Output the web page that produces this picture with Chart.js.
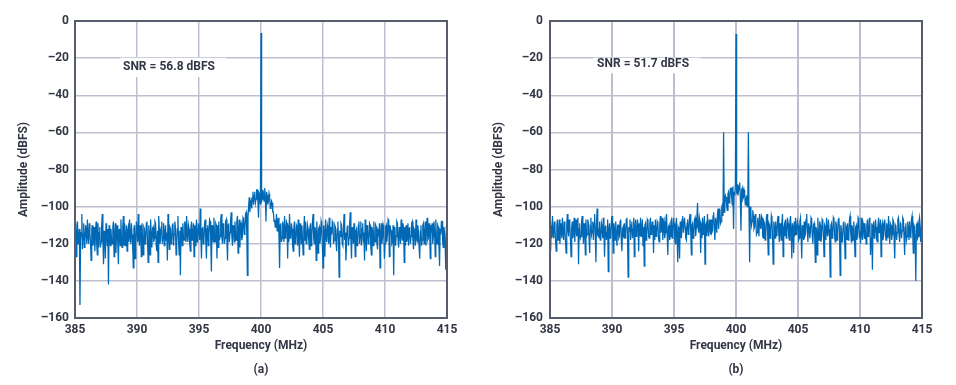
<!DOCTYPE html>
<html lang="en">

<head>
    <meta charset="UTF-8">
    <title>Spectrum (a) and (b)</title>
    <script src="https://cdn.jsdelivr.net/npm/chart.js"></script>
    <style>
        body {
            margin: 0;
            background: #fff;
            font-family: Roboto, Arial, sans-serif;
            overflow: hidden;
        }

        .panel {
            position: absolute;
            top: 0;
            width: 478px;
            height: 385px;
        }

        .tag {
            position: absolute;
            top: 362px;
            font: bold 12px Roboto, Arial, sans-serif;
            color: #333745;
            width: 40px;
            text-align: center;
        }
    </style>
</head>

<body>
    <div class="panel" style="left:0"><canvas id="chartA" width="478" height="385"></canvas></div>
    <div class="panel" style="left:478px"><canvas id="chartB" width="478" height="385"></canvas></div>
    <div class="tag" style="left:241px">(a)</div>
    <div class="tag" style="left:716px">(b)</div>

    <script>
        // frequency grid: 385.00 .. 415.00 MHz, 0.05 MHz per bin
        const freqStart = 385;
        const freqStep = 0.05;

        const xTicks = [385, 390, 395, 400, 405, 410, 415];
        const yTicks = [0, -20, -40, -60, -80, -100, -120, -140, -160];

        const snrLabels = ['SNR = 56.8 dBFS', 'SNR = 51.7 dBFS'];

        // amplitude (dBFS), one row per MHz
        const ampA = [
            -112, -117, -127, -110, -108, -120, -117, -112, -153, -118, -114, -104, -123, -115, -109, -122, -119, -110, -113, -120,
            -107, -116, -120, -109, -114, -119, -129, -112, -110, -121, -118, -111, -124, -115, -108, -120, -126, -109, -122, -114,
            -111, -122, -119, -110, -104, -118, -131, -113, -115, -128, -109, -116, -121, -112, -142, -110, -117, -121, -112, -118,
            -120, -111, -108, -127, -116, -109, -125, -114, -110, -120, -131, -112, -114, -121, -107, -117, -122, -111, -105, -121,
            -109, -121, -118, -110, -124, -113, -111, -119, -107, -116, -120, -109, -115, -121, -133, -112, -110, -128, -119, -108,
            -113, -119, -104, -117, -121, -110, -115, -127, -109, -117, -126, -111, -112, -120, -118, -109, -108, -119, -130, -110,
            -114, -126, -107, -116, -122, -112, -111, -119, -117, -108, -109, -121, -124, -113, -130, -105, -112, -120, -118, -111,
            -108, -120, -116, -109, -121, -114, -110, -118, -114, -129, -104, -115, -123, -111, -112, -120, -119, -110, -109, -121,
            -115, -108, -111, -126, -120, -112, -105, -118, -126, -113, -137, -111, -113, -121, -109, -117, -118, -108, -110, -119,
            -105, -115, -119, -110, -112, -120, -124, -111, -108, -118, -116, -109, -127, -110, -121, -112, -107, -119, -117, -109,
            -113, -118, -101, -116, -128, -112, -111, -120, -118, -109, -107, -119, -128, -112, -110, -121, -115, -107, -108, -119,
            -135, -110, -112, -119, -106, -115, -119, -109, -110, -128, -110, -122, -108, -118, -116, -107, -104, -117, -120, -109,
            -111, -120, -117, -108, -107, -118, -129, -110, -109, -119, -114, -107, -103, -116, -121, -110, -112, -119, -108, -115,
            -118, -108, -105, -125, -113, -107, -122, -110, -109, -118, -116, -106, -107, -115, -112, -104, -103, -113, -137, -106,
            -100, -95, -103, -98, -97, -101, -95, -92, -99, -94, -92, -98, -96, -91, -91, -97, -106, -93, -94, -99,
            -6.5, -97, -96, -91, -93, -97, -90, -95, -108, -92, -94, -99, -97, -93, -95, -101, -100, -97, -98, -103,
            -103, -108, -107, -111, -110, -104, -113, -108, -106, -116, -133, -110, -109, -119, -117, -108, -111, -119, -105, -117,
            -114, -108, -109, -128, -110, -119, -104, -117, -116, -109, -112, -121, -124, -111, -108, -120, -118, -110, -111, -121,
            -107, -116, -127, -109, -113, -120, -110, -118, -126, -112, -105, -118, -108, -120, -119, -110, -112, -118, -123, -111,
            -109, -121, -116, -108, -104, -117, -120, -111, -113, -129, -108, -116, -125, -112, -111, -120, -117, -108, -110, -121,
            -133, -110, -114, -127, -107, -116, -119, -110, -112, -120, -106, -117, -122, -111, -115, -108, -109, -120, -118, -110,
            -111, -119, -124, -112, -108, -117, -138, -113, -116, -109, -110, -120, -121, -112, -104, -118, -114, -129, -119, -111,
            -110, -121, -117, -109, -103, -118, -128, -111, -113, -120, -109, -116, -127, -113, -112, -121, -118, -110, -108, -120,
            -115, -108, -121, -112, -109, -119, -114, -129, -107, -116, -124, -110, -112, -120, -118, -109, -110, -121, -126, -111,
            -113, -121, -108, -117, -119, -110, -111, -120, -123, -112, -116, -109, -133, -114, -109, -120, -117, -110, -112, -128,
            -120, -111, -110, -119, -115, -107, -108, -127, -110, -112, -113, -120, -119, -110, -137, -112, -111, -121, -116, -108,
            -109, -118, -122, -111, -114, -120, -107, -116, -118, -109, -112, -130, -111, -121, -110, -119, -117, -109, -121, -112,
            -111, -120, -116, -109, -108, -118, -123, -112, -113, -121, -107, -117, -119, -110, -114, -122, -128, -113, -110, -121,
            -118, -110, -109, -120, -115, -108, -121, -111, -106, -118, -117, -109, -112, -128, -110, -112, -109, -120, -116, -108,
            -113, -127, -107, -117, -120, -110, -111, -121, -132, -112, -115, -108, -108, -119, -122, -111, -114, -120, -134, -110,
            -112
        ];

        // amplitude (dBFS)
        const ampB = [
            -108, -124, -110, -117, -105, -115, -117, -108, -111, -119, -124, -110, -107, -118, -115, -107, -120, -112, -109, -117,
            -106, -114, -118, -108, -112, -119, -125, -110, -104, -113, -116, -107, -110, -118, -127, -111, -108, -117, -114, -106,
            -119, -110, -107, -116, -113, -106, -131, -112, -109, -117, -116, -108, -105, -114, -120, -109, -111, -126, -107, -116,
            -115, -107, -109, -117, -125, -110, -106, -115, -113, -108, -118, -109, -104, -114, -130, -110, -101, -116, -112, -117,
            -108, -118, -117, -109, -111, -117, -106, -114, -127, -111, -110, -118, -114, -107, -135, -112, -109, -117, -116, -108,
            -105, -114, -125, -109, -112, -118, -108, -116, -121, -110, -110, -117, -116, -108, -107, -118, -124, -112, -111, -117,
            -109, -117, -115, -107, -106, -116, -138, -111, -113, -107, -118, -110, -108, -117, -112, -106, -127, -111, -107, -116,
            -114, -107, -110, -124, -109, -116, -106, -116, -112, -107, -121, -111, -132, -110, -109, -118, -115, -107, -108, -116,
            -117, -109, -106, -115, -113, -108, -111, -125, -110, -118, -107, -116, -115, -108, -109, -117, -119, -110, -105, -114,
            -112, -106, -118, -110, -108, -117, -114, -107, -104, -115, -126, -111, -110, -118, -116, -108, -107, -117, -113, -106,
            -109, -116, -120, -110, -106, -115, -130, -111, -112, -128, -108, -115, -117, -107, -105, -114, -114, -106, -111, -117,
            -118, -109, -107, -115, -113, -106, -104, -114, -126, -110, -109, -117, -115, -107, -106, -116, -111, -105, -98, -112,
            -114, -106, -108, -125, -109, -117, -106, -115, -112, -105, -131, -110, -109, -116, -104, -112, -116, -107, -110, -115,
            -107, -114, -113, -105, -103, -112, -118, -106, -109, -114, -105, -101, -112, -104, -101, -109, -108, -100, -99, -105,
            -60, -103, -98, -94, -95, -100, -102, -93, -92, -98, -96, -90, -90, -95, -99, -89, -112, -92, -94, -88,
            -7, -93, -88, -94, -92, -89, -87, -96, -113, -91, -90, -96, -95, -91, -93, -99, -98, -94, -100, -97,
            -60, -104, -130, -100, -103, -110, -108, -102, -105, -112, -111, -104, -107, -115, -114, -106, -109, -116, -104, -110,
            -112, -105, -106, -116, -117, -108, -109, -118, -115, -106, -104, -114, -126, -109, -110, -117, -113, -105, -107, -118,
            -131, -108, -111, -117, -108, -114, -116, -107, -105, -115, -119, -109, -112, -118, -109, -104, -127, -112, -110, -116,
            -107, -117, -114, -106, -109, -116, -118, -108, -105, -113, -128, -109, -111, -125, -108, -116, -106, -115, -113, -108,
            -110, -118, -117, -108, -106, -115, -128, -110, -112, -118, -108, -116, -115, -107, -104, -113, -119, -109, -111, -117,
            -114, -106, -107, -116, -120, -110, -109, -117, -130, -111, -113, -126, -106, -114, -118, -108, -110, -119, -116, -107,
            -108, -115, -127, -110, -111, -118, -106, -114, -116, -107, -112, -117, -138, -110, -109, -117, -115, -106, -107, -116,
            -119, -108, -110, -118, -113, -107, -106, -115, -137, -110, -112, -119, -117, -109, -108, -116, -128, -110, -111, -118,
            -109, -118, -116, -107, -105, -114, -119, -110, -112, -118, -108, -117, -127, -111, -110, -118, -115, -106, -107, -117,
            -113, -120, -106, -115, -118, -109, -111, -117, -109, -115, -120, -110, -107, -116, -114, -106, -110, -126, -117, -109,
            -134, -110, -108, -117, -115, -107, -111, -118, -119, -110, -106, -114, -113, -107, -127, -111, -109, -118, -116, -108,
            -107, -115, -118, -109, -112, -117, -105, -114, -120, -109, -110, -118, -115, -107, -108, -117, -128, -110, -111, -118,
            -114, -107, -106, -116, -119, -109, -110, -117, -113, -106, -107, -116, -126, -111, -109, -118, -116, -108, -112, -118,
            -108, -115, -117, -107, -105, -114, -125, -110, -111, -118, -140, -110, -109, -117, -116, -108, -106, -115, -119, -109,
            -110
        ];

        const tickColor = '#333745';
        const gridColor = '#bdbfcf';
        const frameColor = '#575c6d';
        const lineColor = '#0068b4';
        const font = { family: 'Roboto, Arial, sans-serif', size: 12, weight: 'bold' };

        function toPoints(values) {
            return values.map((v, i) => ({ x: +(freqStart + i * freqStep).toFixed(2), y: v }));
        }

        // white box with the SNR text, sitting on top of the grid
        const snrPlugin = {
            id: 'snr',
            beforeDatasetsDraw(chart, args, opts) {
                const { ctx, scales: { x, y } } = chart;
                const x0 = x.getPixelForValue(opts.box[0]);
                const x1 = x.getPixelForValue(opts.box[1]);
                const y0 = y.getPixelForValue(opts.box[2]);
                const y1 = y.getPixelForValue(opts.box[3]);
                ctx.save();
                ctx.fillStyle = '#fff';
                ctx.fillRect(x0, y0, x1 - x0, y1 - y0);
                ctx.fillStyle = tickColor;
                ctx.font = 'bold 12px Roboto, Arial, sans-serif';
                ctx.textBaseline = 'middle';
                ctx.fillText(opts.text, x.getPixelForValue(opts.at[0]), y.getPixelForValue(opts.at[1]));
                ctx.restore();
            }
        };

        const framePlugin = {
            id: 'frame',
            afterDraw(chart) {
                const { ctx, chartArea: a } = chart;
                ctx.save();
                ctx.strokeStyle = frameColor;
                ctx.lineWidth = 2;
                ctx.strokeRect(a.left, a.top, a.right - a.left, a.bottom - a.top);
                ctx.restore();
            }
        };

        function makeChart(id, values, cfg) {
            return new Chart(document.getElementById(id), {
                type: 'line',
                data: {
                    datasets: [{
                        data: toPoints(values),
                        borderColor: lineColor,
                        borderWidth: 1.25,
                        pointRadius: 0,
                        tension: 0
                    }]
                },
                options: {
                    responsive: false,
                    animation: false,
                    events: [],
                    layout: { padding: { top: 21, right: cfg.right, bottom: 27, left: 0 } },
                    plugins: {
                        legend: { display: false },
                        tooltip: { enabled: false },
                        snr: { text: cfg.snr, box: cfg.box, at: cfg.at }
                    },
                    scales: {
                        x: {
                            type: 'linear',
                            min: 385,
                            max: 415,
                            afterBuildTicks: s => { s.ticks = xTicks.map(v => ({ value: v })); },
                            afterFit: s => { s.height = 40; },
                            grid: { color: gridColor, lineWidth: cfg.gridW, drawTicks: false },
                            border: { display: false },
                            ticks: { color: tickColor, font: font, padding: 5, maxRotation: 0 },
                            title: {
                                display: true,
                                text: 'Frequency (MHz)',
                                color: tickColor,
                                font: font,
                                padding: { top: 0, bottom: 5 }
                            }
                        },
                        y: {
                            min: -160,
                            max: 0,
                            afterBuildTicks: s => { s.ticks = yTicks.map(v => ({ value: v })); },
                            afterFit: s => { s.width = cfg.left; },
                            grid: { color: gridColor, lineWidth: 1.5, drawTicks: false },
                            border: { display: false },
                            ticks: {
                                color: tickColor,
                                font: font,
                                padding: cfg.tickPad,
                                callback: v => (v < 0 ? '\u2013' + Math.abs(v) : String(v))
                            },
                            title: {
                                display: true,
                                text: 'Amplitude (dBFS)',
                                color: tickColor,
                                font: font,
                                padding: { top: cfg.titleX - 7, bottom: 0 }
                            }
                        }
                    }
                },
                plugins: [snrPlugin, framePlugin]
            });
        }

        makeChart('chartA', ampA, {
            left: 75, right: 31, tickPad: 6, titleX: 24, gridW: 1.5,
            snr: snrLabels[0], box: [388.63, 397.2, -19.8, -30.2], at: [388.87, -24.8]
        });

        makeChart('chartB', ampB, {
            left: 72, right: 34, tickPad: 7, titleX: 21, gridW: 2,
            snr: snrLabels[1], box: [388.5, 397.15, -19.8, -28.2], at: [388.8, -22.9]
        });
    </script>

</body>

</html>
